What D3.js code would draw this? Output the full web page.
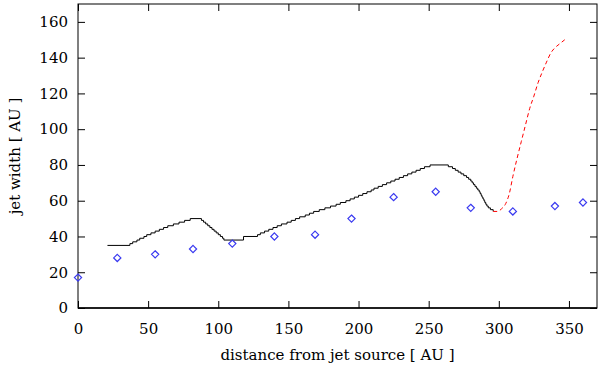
<!DOCTYPE html>
<html>
<head>
<meta charset="utf-8">
<script src="https://cdn.jsdelivr.net/npm/d3@7"></script>
<style>
  body { margin: 0; background: #fff; }
  svg text { font-family: "DejaVu Serif", serif; fill: #000; }
</style>
</head>
<body>
<svg id="chart" width="600" height="366"></svg>
<script>
// observed widths (diamonds)
const obsX = [0, 28, 55, 82, 110, 140, 169, 195, 225, 255, 280, 310, 340, 360];
const obsY = [17, 28, 30, 33, 36, 40, 41, 50, 62, 65, 56, 54, 57, 59];

// simulated jet width, stepped (black)
const simX = [21, 37, 39, 42, 44, 47, 49, 52, 55, 58, 61, 64, 68, 72, 76, 80,
  88, 89.5, 91, 92.5, 94, 95.5, 97, 98.5, 100, 101.5, 103, 104,
  118, 128, 130, 133, 136, 139, 142, 145, 149, 152, 155, 158, 162, 165, 168,
  172, 176, 180, 184, 187, 191, 194, 197, 200, 203, 206, 209, 211, 214, 217,
  220, 223, 226, 229, 232, 235, 238, 241, 244, 247, 251,
  264, 267, 269, 271, 273, 275, 277, 278.5, 280, 281, 282, 283, 284, 285, 286,
  286.7, 287.4, 288, 288.7, 289.4, 290, 290.7, 291.5, 292.5, 294, 296];
const simY = [35, 36, 37, 38, 39, 40, 41, 42, 43, 44, 45, 46, 47, 48, 49, 50,
  49, 48, 47, 46, 45, 44, 43, 42, 41, 40, 39, 38,
  40, 41, 42, 43, 44, 45, 46, 47, 48, 49, 50, 51, 52, 53, 54,
  55, 56, 57, 58, 59, 60, 61, 62, 63, 64, 65, 66, 67, 68, 69,
  70, 71, 72, 73, 74, 75, 76, 77, 78, 79, 80,
  79, 78, 77, 76, 75, 74, 73, 72, 71, 70, 69, 68, 67, 66, 65,
  64, 63, 62, 61, 60, 59, 58, 57, 56, 55, 54];

// extrapolated part (red dashed)
const extX = [296, 299, 302, 305, 307.5, 310, 313, 316, 319, 322, 325, 328, 331, 334, 337, 340, 343, 347];
const extY = [54, 54, 55.5, 58.5, 64, 73.5, 83.6, 93, 102.3, 111.5, 118.5, 126, 132, 137.5, 142.5, 145.5, 147.5, 150];

const xTicks = [0, 50, 100, 150, 200, 250, 300, 350];
const yTicks = [0, 20, 40, 60, 80, 100, 120, 140, 160];

const margin = {left: 78, right: 3, top: 4, bottom: 58};
const width = 600, height = 366;
const font = '"DejaVu Serif", serif';

const svg = d3.select("#chart");

const x = d3.scaleLinear().domain([0, 370]).range([margin.left, width - margin.right]);
const y = d3.scaleLinear().domain([0, 170]).range([height - margin.bottom, margin.top]);

const tickLen = 7;

// axes (ticks pointing inward, mirrored)
svg.append("g")
  .attr("transform", `translate(0,${y(0)})`)
  .call(d3.axisBottom(x).tickValues(xTicks).tickSizeInner(-tickLen).tickSizeOuter(0).tickPadding(15))
  .call(g => g.select(".domain").remove());
svg.append("g")
  .attr("transform", `translate(0,${y(170)})`)
  .call(d3.axisTop(x).tickValues(xTicks).tickSizeInner(-tickLen).tickSizeOuter(0).tickFormat(""))
  .call(g => g.select(".domain").remove());
svg.append("g")
  .attr("transform", `translate(${x(0)},0)`)
  .call(d3.axisLeft(y).tickValues(yTicks).tickSizeInner(-tickLen).tickSizeOuter(0).tickPadding(10))
  .call(g => g.select(".domain").remove());
svg.append("g")
  .attr("transform", `translate(${x(370)},0)`)
  .call(d3.axisRight(y).tickValues(yTicks).tickSizeInner(-tickLen).tickSizeOuter(0).tickFormat(""))
  .call(g => g.select(".domain").remove());

svg.selectAll("g").attr("font-family", font);
svg.selectAll(".tick line").attr("stroke", "#000").attr("stroke-width", 1);
svg.selectAll(".tick text")
  .attr("font-family", font)
  .attr("font-size", 15)
  .attr("fill", "#000");

// frame
svg.append("rect")
  .attr("x", x(0)).attr("y", y(170))
  .attr("width", x(370) - x(0)).attr("height", y(0) - y(170))
  .attr("fill", "none").attr("stroke", "#000").attr("stroke-width", 1);
svg.append("line")
  .attr("x1", x(0)).attr("x2", x(370)).attr("y1", y(0)).attr("y2", y(0))
  .attr("stroke", "#000").attr("stroke-width", 1.6);

// simulated line
const sim = simX.map((d, i) => [d, simY[i]]);
svg.append("path")
  .datum(sim)
  .attr("fill", "none")
  .attr("stroke", "#000")
  .attr("stroke-width", 1)
  .attr("d", d3.line().x(d => x(d[0])).y(d => y(d[1])).curve(d3.curveStepAfter));

// extrapolation
const ext = extX.map((d, i) => [d, extY[i]]);
svg.append("path")
  .datum(ext)
  .attr("fill", "none")
  .attr("stroke", "#ff0000")
  .attr("stroke-width", 1)
  .attr("stroke-dasharray", "4,3")
  .attr("d", d3.line().x(d => x(d[0])).y(d => y(d[1])).curve(d3.curveMonotoneX));

// observations
const obs = obsX.map((d, i) => [d, obsY[i]]);
const r = 3.6;
svg.append("g").selectAll("path")
  .data(obs)
  .join("path")
  .attr("d", d => {
    const cx = x(d[0]), cy = y(d[1]);
    return `M${cx},${cy - r}L${cx + r},${cy}L${cx},${cy + r}L${cx - r},${cy}Z`;
  })
  .attr("fill", "none")
  .attr("stroke", "#3a3af0")
  .attr("stroke-width", 1.2);

// labels
svg.append("text")
  .attr("x", (x(0) + x(370)) / 2)
  .attr("y", 360)
  .attr("text-anchor", "middle")
  .attr("font-family", font)
  .attr("font-size", 15)
  .text("distance from jet source [ AU ]");

svg.append("text")
  .attr("transform", `translate(20,${(y(0) + y(170)) / 2}) rotate(-90)`)
  .attr("text-anchor", "middle")
  .attr("font-family", font)
  .attr("font-size", 15)
  .text("jet width [ AU ]");
</script>
</body>
</html>
